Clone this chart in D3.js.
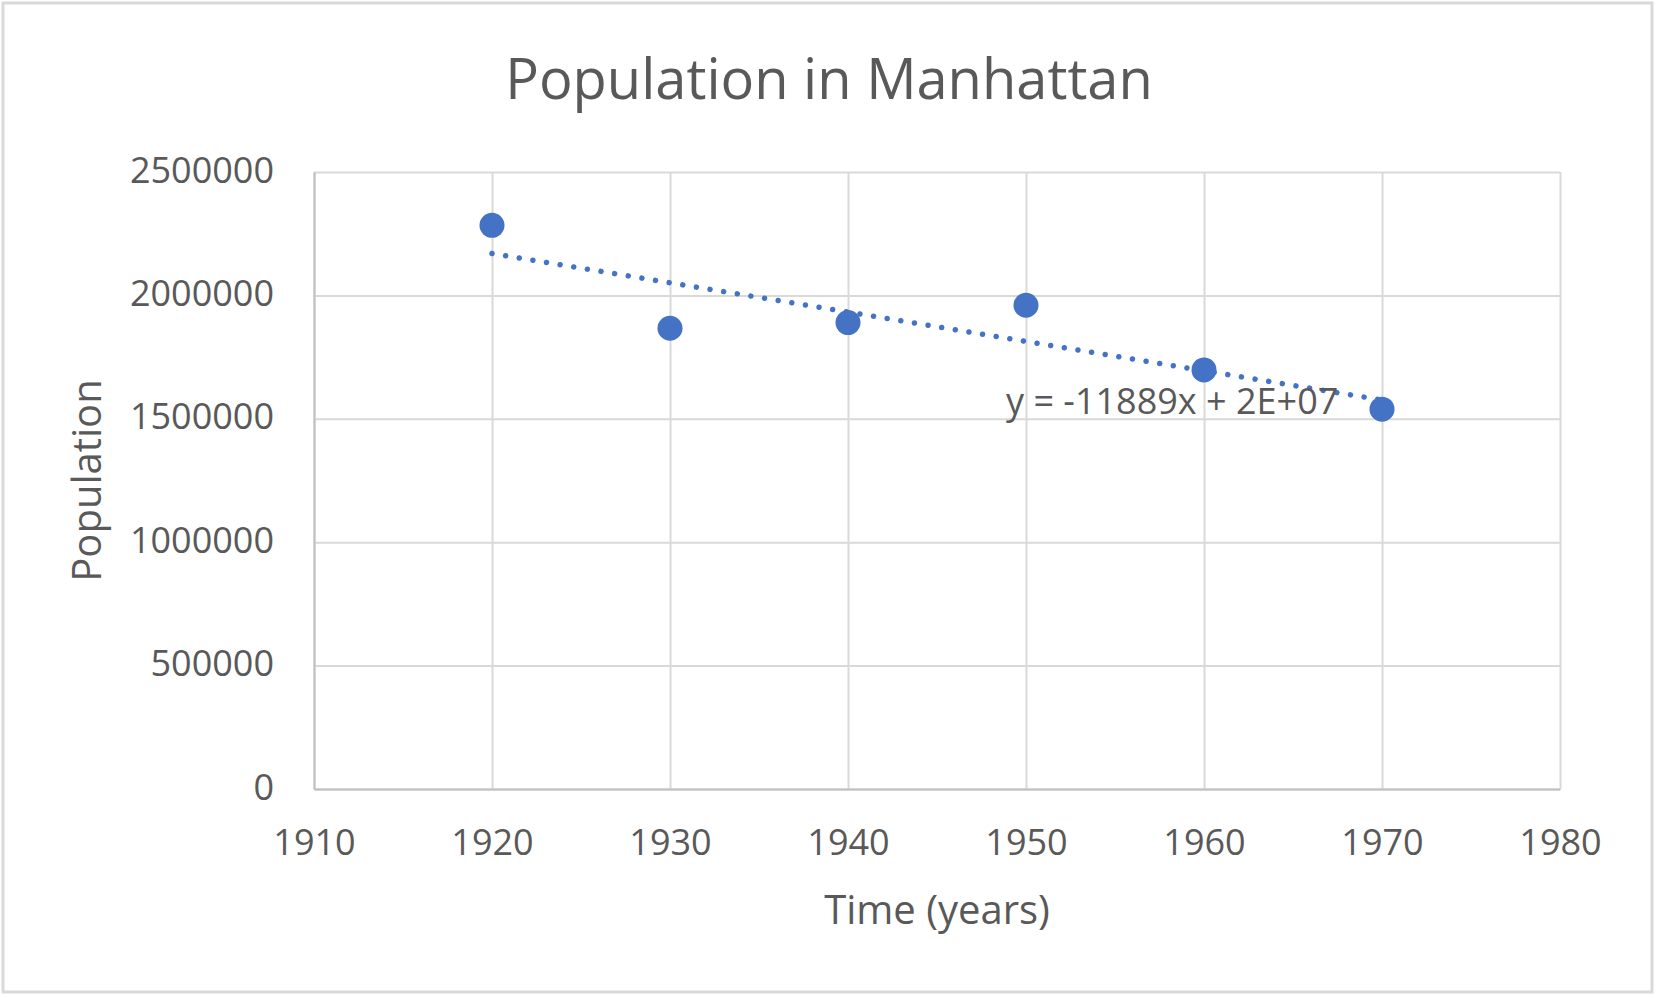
<!DOCTYPE html>
<html>
<head>
    <meta charset="utf-8">
    <title>Population in Manhattan</title>
    <style>
        body { margin: 0; background: #fff; }
        text { font-family: 'Open Sans', sans-serif; fill: #595959; }
    </style>
</head>
<body>

<script src="https://d3js.org/d3.v7.min.js"></script>
<script type="text/javascript">

// census values
var years       = [1920, 1930, 1940, 1950, 1960, 1970];
var population  = [2284000, 1867000, 1890000, 1960000, 1698000, 1539000];

// linear trendline ends as drawn in the picture
var trendYears  = [1920, 1970];
var trendValues = [2170000, 1576000];

var xTicks = [1910, 1920, 1930, 1940, 1950, 1960, 1970, 1980];
var yTicks = [0, 500000, 1000000, 1500000, 2000000, 2500000];

var W = 1659, H = 999;
var margin = {top:172, right:99, bottom:210, left:314},
    width  = W - margin.left - margin.right,
    height = H - margin.top - margin.bottom;

var x = d3.scaleLinear().domain([1910, 1980]).range([0, width]);
var y = d3.scaleLinear().domain([0, 2500000]).range([height, 0]);

var svg = d3.select("body")
    .append("svg")
    .attr("width", W)
    .attr("height", H);

// outer chart border
svg.append("rect")
    .attr("x", 3)
    .attr("y", 3)
    .attr("width", 1649)
    .attr("height", 989)
    .attr("fill", "#fff")
    .attr("stroke", "#d9d9d9")
    .attr("stroke-width", 3);

svg.append("text")
    .attr("x", 829)
    .attr("y", 99)
    .attr("text-anchor", "middle")
    .attr("font-size", "56px")
    .text("Population in Manhattan");

var chart = svg.append("g")
    .attr("transform", "translate(" + margin.left + "," + margin.top + ")");

// gridlines
chart.append("g")
    .call(d3.axisLeft(y).tickValues(yTicks).tickSize(-width).tickFormat(""))
    .call(function(g) { g.select(".domain").remove(); })
    .selectAll("line")
    .attr("stroke", "#d9d9d9")
    .attr("stroke-width", 2);

chart.append("g")
    .attr("transform", "translate(0," + height + ")")
    .call(d3.axisBottom(x).tickValues(xTicks).tickSize(height).tickFormat(""))
    .call(function(g) { g.select(".domain").remove(); })
    .selectAll("line")
    .attr("transform", "translate(0," + (-height) + ")")
    .attr("stroke", "#d9d9d9")
    .attr("stroke-width", 2);

// axis lines and labels
var yAxis = chart.append("g")
    .call(d3.axisLeft(y).tickValues(yTicks).tickSize(0).tickPadding(40).tickFormat(d3.format("d")));
yAxis.select(".domain").attr("stroke", "#bfbfbf").attr("stroke-width", 2);
yAxis.selectAll("text")
    .attr("font-size", "36px")
    .attr("font-family", "'Open Sans', sans-serif")
    .attr("fill", "#595959")
    .attr("dy", "0.28em");

var xAxis = chart.append("g")
    .attr("transform", "translate(0," + height + ")")
    .call(d3.axisBottom(x).tickValues(xTicks).tickSize(0).tickPadding(40).tickFormat(d3.format("d")));
xAxis.select(".domain").attr("stroke", "#bfbfbf").attr("stroke-width", 2);
xAxis.selectAll("text")
    .attr("font-size", "36px")
    .attr("font-family", "'Open Sans', sans-serif")
    .attr("fill", "#595959")
    .attr("dy", "0.71em");

svg.append("text")
    .attr("x", margin.left + width / 2)
    .attr("y", 924)
    .attr("text-anchor", "middle")
    .attr("font-size", "40px")
    .text("Time (years)");

svg.append("text")
    .attr("transform", "translate(101," + (margin.top + height / 2) + ") rotate(-90)")
    .attr("text-anchor", "middle")
    .attr("font-size", "40px")
    .text("Population");

// trendline
var trend = trendYears.map(function(d, i) { return [d, trendValues[i]]; });
chart.append("path")
    .datum(trend)
    .attr("d", d3.line()
        .x(function(d) { return x(d[0]); })
        .y(function(d) { return y(d[1]); }))
    .style("fill", "none")
    .style("stroke", "#4472c4")
    .style("stroke-width", "5.5px")
    .style("stroke-linecap", "round")
    .style("stroke-dasharray", "0.01 13.8");

// points
chart.selectAll("circle")
    .data(years)
    .enter()
    .append("circle")
    .attr("cx", function(d) { return x(d); })
    .attr("cy", function(d, i) { return y(population[i]); })
    .attr("r", 12.5)
    .attr("fill", "#4472c4");

svg.append("text")
    .attr("x", 1006)
    .attr("y", 414)
    .attr("font-size", "36px")
    .text("y = -11889x + 2E+07");

</script>

</body>
</html>
